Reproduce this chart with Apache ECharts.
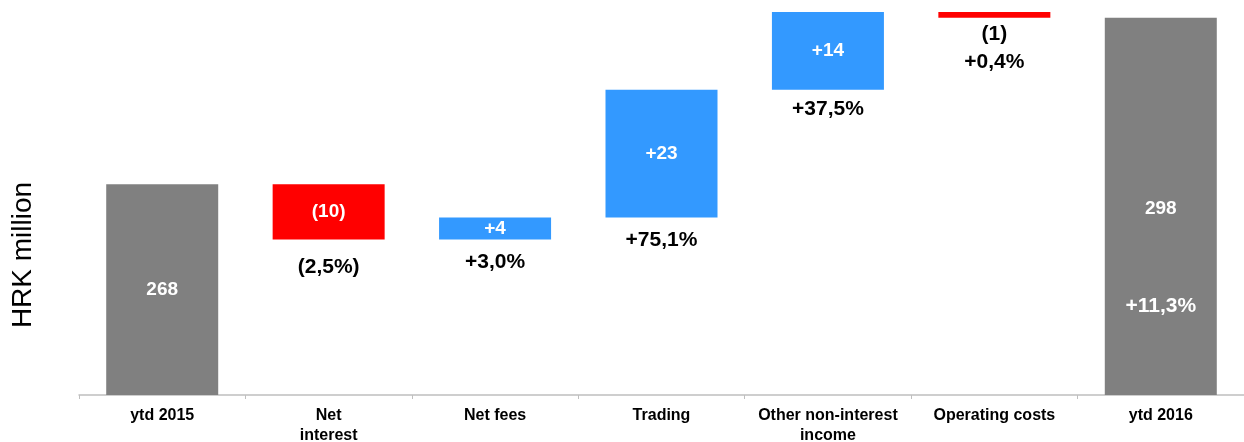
<!DOCTYPE html>
<html>
<head>
<meta charset="utf-8">
<script src="https://cdn.jsdelivr.net/npm/echarts@6/dist/echarts.min.js"></script>
<style>
html,body{margin:0;padding:0;background:#fff}
#chart{width:1244px;height:442px}
</style>
</head>
<body>
<div id="chart"></div>
<script>
var categories = ['ytd 2015', 'Net\ninterest', 'Net fees', 'Trading', 'Other non-interest\nincome', 'Operating costs', 'ytd 2016'];
var startTotal = 268;
var endTotal = 298;
var changes = [-10, 4, 23, 14, -1];
var valueLabels = ['268', '(10)', '+4', '+23', '+14', '(1)', '298'];
var pctLabels = ['', '(2,5%)', '+3,0%', '+75,1%', '+37,5%', '+0,4%', '+11,3%'];

// gap in px between a change bar and its percentage label
var pctGap = [14, 9, 9, 5, 3];

var GRAY = '#808080', RED = '#FF0000', BLUE = '#3399FF';
var FONT = 'Liberation Sans, Arial, sans-serif';

var baseData = [], barData = [], pctData = [];
var run = startTotal;
baseData.push(0);
barData.push({value: startTotal, itemStyle: {color: GRAY}, label: {formatter: valueLabels[0]}});
changes.forEach(function (c, i) {
  var from = run, to = run + c;
  var low = Math.min(from, to);
  var small = Math.abs(c) < 2; // bar too thin for its label
  baseData.push(low);
  barData.push({
    value: Math.abs(c),
    itemStyle: {color: c < 0 ? RED : BLUE},
    label: {show: !small, formatter: valueLabels[i + 1]}
  });
  pctData.push({
    value: [i + 1, low],
    label: {
      formatter: (small ? valueLabels[i + 1] + '\n' : '') + pctLabels[i + 1],
      distance: pctGap[i]
    }
  });
  run = to;
});
baseData.push(0);
barData.push({
  value: endTotal,
  itemStyle: {color: GRAY},
  label: {
    formatter: '{v|' + valueLabels[6] + '}\n{g| }\n{p|' + pctLabels[6] + '}',
    offset: [0, 51]
  }
});

var myChart = echarts.init(document.getElementById('chart'));
var option = {
  animation: false,
  textStyle: {fontFamily: FONT},
  grid: {left: 79, right: 0, top: 1, bottom: 47, outerBoundsMode: 'none'},
  graphic: [{
    type: 'text',
    x: 23, y: 255,
    rotation: Math.PI / 2,
    style: {text: 'HRK million', font: '28px ' + FONT, fill: '#000', align: 'center', verticalAlign: 'middle'}
  }],
  xAxis: {
    type: 'category',
    data: categories,
    axisLine: {lineStyle: {color: '#BFBFBF', width: 1.5}},
    axisTick: {show: true, length: 4, lineStyle: {color: '#BFBFBF'}},
    axisLabel: {interval: 0, margin: 11, color: '#000', fontSize: 16, fontWeight: 'bold', lineHeight: 20, fontFamily: FONT}
  },
  yAxis: {
    type: 'value',
    min: 230,
    max: 301,
    show: false,
    splitLine: {show: false}
  },
  series: [
    {
      type: 'bar', stack: 'w', silent: true,
      barWidth: 112,
      itemStyle: {color: 'transparent'},
      data: baseData
    },
    {
      type: 'bar', stack: 'w',
      barWidth: 112,
      label: {
        show: true, position: 'inside', color: '#fff',
        fontSize: 19, fontWeight: 'bold', fontFamily: FONT,
        rich: {
          v: {color: '#fff', fontSize: 19, fontWeight: 'bold', lineHeight: 20, fontFamily: FONT},
          g: {lineHeight: 77},
          p: {color: '#fff', fontSize: 21, fontWeight: 'bold', lineHeight: 20, fontFamily: FONT}
        }
      },
      data: barData
    },
    {
      type: 'scatter',
      symbolSize: 0,
      silent: true,
      itemStyle: {color: '#000', opacity: 1},
      label: {
        show: true, position: 'bottom', opacity: 1,
        color: '#000', fontSize: 21, fontWeight: 'bold', lineHeight: 28, fontFamily: FONT
      },
      data: pctData
    }
  ]
};
myChart.setOption(option);
</script>
</body>
</html>
